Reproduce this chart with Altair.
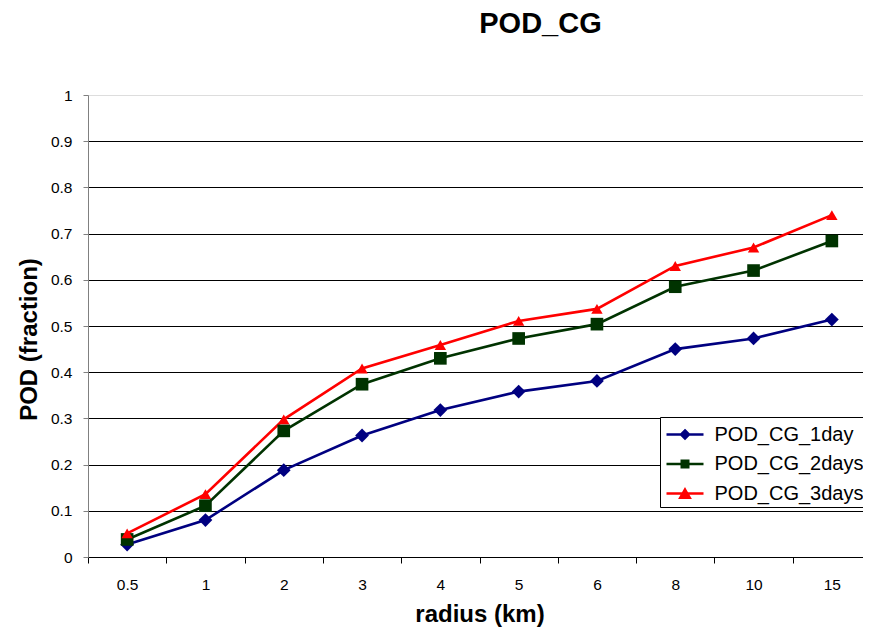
import altair as alt
import pandas as pd

# ---- data ----
radius = ["0.5", "1", "2", "3", "4", "5", "6", "8", "10", "15"]
pod_1day = [0.027, 0.080, 0.188, 0.263, 0.318, 0.358, 0.381, 0.450, 0.473, 0.514]
pod_2days = [0.038, 0.111, 0.273, 0.374, 0.430, 0.473, 0.504, 0.585, 0.620, 0.684]
pod_3days = [0.051, 0.136, 0.298, 0.408, 0.459, 0.511, 0.537, 0.630, 0.670, 0.740]
series_names = ["POD_CG_1day", "POD_CG_2days", "POD_CG_3days"]
series_colors = ["#000080", "#003300", "#FF0000"]
marker_shapes = ["diamond", "square", "triangle-up"]
marker_sizes = [190, 130, 175]
y_ticks = [0, 0.1, 0.2, 0.3, 0.4, 0.5, 0.6, 0.7, 0.8, 0.9, 1]

# legend symbols: line segment + marker (custom paths)
legend_paths = [
    "M-1.48,0H1.48M0,-0.32L0.32,0L0,0.32L-0.32,0Z",
    "M-1.48,0H1.48M-0.26,-0.26H0.26V0.26H-0.26Z",
    "M-1.48,0H1.48M0,-0.32L0.38,0.34L-0.38,0.34Z",
]

rows = []
for name, vals in zip(series_names, [pod_1day, pod_2days, pod_3days]):
    for r, v in zip(radius, vals):
        rows.append({"radius": r, "pod": v, "series": name})
df = pd.DataFrame(rows)

FONT = "Liberation Sans"

x_enc = alt.X(
    "radius:N",
    sort=radius,
    bandPosition=0.5,
    scale=alt.Scale(type="band", domain=radius, paddingInner=0, paddingOuter=0),
    axis=alt.Axis(
        title="radius (km)",
        labelAngle=0,
        tickBand="extent",
        tickSize=6,
        tickColor="black",
        domainColor="black",
        labelPadding=14,
        labelFontSize=15.5,
        labelColor="black",
        labelFont=FONT,
        titleFont=FONT,
        titleFontSize=24,
        titleFontWeight="bold",
        titleColor="black",
        titlePadding=10,
        grid=False,
    ),
)
y_enc = alt.Y(
    "pod:Q",
    scale=alt.Scale(domain=[0, 1], nice=False, zero=True),
    axis=alt.Axis(
        title="POD (fraction)",
        values=y_ticks,
        format="~g",
        tickSize=5,
        tickColor="#808080",
        domainColor="#808080",
        labelPadding=11,
        labelFontSize=15.5,
        labelColor="black",
        labelFont=FONT,
        titleFont=FONT,
        titleFontSize=24,
        titleFontWeight="bold",
        titleColor="black",
        titlePadding=9,
        titleY=244,
        grid=True,
        gridColor="black",
        gridWidth=1,
        gridOpacity={"condition": {"test": "datum.value >= 1", "value": 0}, "value": 1},
    ),
)

color_scale = alt.Scale(domain=series_names, range=series_colors)

lines = alt.Chart(df).mark_line(strokeWidth=2.6).encode(
    x=x_enc,
    y=y_enc,
    color=alt.Color("series:N", scale=color_scale, legend=None),
    detail="series:N",
)

points = alt.Chart(df).mark_point(filled=True, opacity=1).encode(
    x=x_enc,
    y=y_enc,
    color=alt.Color("series:N", scale=color_scale, legend=None),
    shape=alt.Shape("series:N", scale=alt.Scale(domain=series_names, range=marker_shapes), legend=None),
    size=alt.Size("series:N", scale=alt.Scale(domain=series_names, range=marker_sizes), legend=None),
)

leg = alt.Legend(
    orient="none",
    legendX=572,
    legendY=322,
    title=None,
    symbolSize=625,
    symbolStrokeWidth=2.5,
    symbolOffset=7.5,
    labelOffset=15.5,
    labelFontSize=20,
    labelFont=FONT,
    labelColor="black",
    labelLimit=400,
    padding=3.5,
    rowPadding=5.5,
    fillColor="white",
    strokeColor="black",
)

legend_layer = alt.Chart(df).transform_filter("false").mark_point(filled=True, opacity=1).encode(
    x=x_enc,
    y=y_enc,
    color=alt.Color("series:N", scale=alt.Scale(domain=series_names, range=series_colors), legend=leg),
    stroke=alt.Stroke("series:N", scale=alt.Scale(domain=series_names, range=series_colors), legend=leg),
    shape=alt.Shape("series:N", scale=alt.Scale(domain=series_names, range=legend_paths), legend=leg),
)

chart = (
    alt.layer(lines, points, legend_layer)
    .resolve_scale(color="independent", shape="independent", stroke="independent")
    .properties(
        width=783,
        height=462,
        padding={"left": 80, "top": 87, "right": -8, "bottom": 70},
        autosize=alt.AutoSizeParams(type="none"),
        title=alt.Title(
            "POD_CG",
            fontSize=29,
            fontWeight="bold",
            font=FONT,
            color="black",
            anchor="middle",
            dx=61,
            offset=26,
            baseline="alphabetic",
        ),
    )
    .configure_view(stroke=None)
    .configure(background="white")
)

chart.save("out.html", embed_options={"renderer": "svg", "actions": False})
